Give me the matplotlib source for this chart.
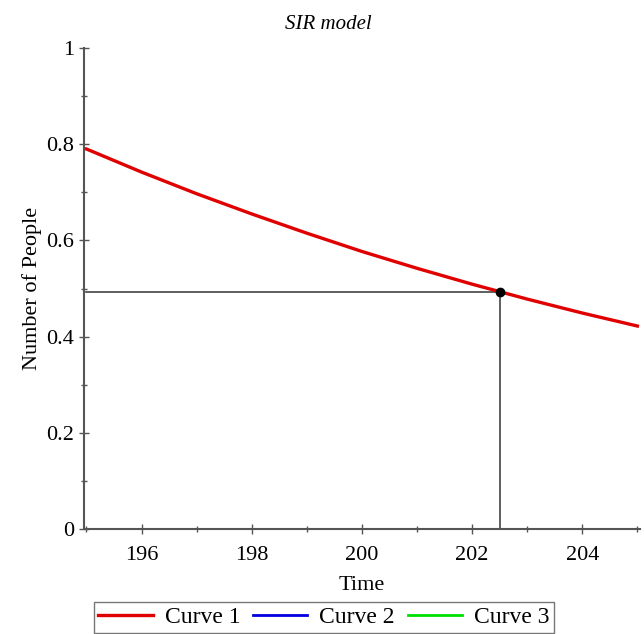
import matplotlib.pyplot as plt
from matplotlib.ticker import MultipleLocator

# values
time = [195, 196, 197, 198, 199, 200, 201, 202, 203, 204, 205]
curve1 = [0.790, 0.742, 0.697, 0.655, 0.615, 0.577, 0.542, 0.509, 0.478, 0.449, 0.422]
point_t = 202.5
point_y = 0.493
legend_labels = ["Curve 1", "Curve 2", "Curve 3"]
legend_colors = ["#e00000", "#0000e0", "#00e000"]

plt.rcParams['font.family'] = ['Liberation Serif', 'DejaVu Serif']

fig = plt.figure(figsize=(6.44, 6.34), dpi=100)
ax = fig.add_axes([0.130, 0.1656, 0.864, 0.7587])

ax.plot(time, curve1, color=legend_colors[0], lw=2.4, zorder=3)
ax.plot([], [], color=legend_colors[1], lw=2)
ax.plot([], [], color=legend_colors[2], lw=2)

ax.plot([time[0], point_t], [point_y, point_y], color="#444444", lw=1.2, zorder=2)
ax.plot([point_t, point_t], [0, point_y], color="#444444", lw=1.2, zorder=2)
ax.plot(point_t, point_y, 'o', color='black', ms=6, zorder=4)

ax.set_xlim(194.95, 205.05)
ax.set_ylim(0, 1)
ax.xaxis.set_major_locator(MultipleLocator(2))
ax.xaxis.set_minor_locator(MultipleLocator(1))
ax.yaxis.set_major_locator(MultipleLocator(0.2))
ax.yaxis.set_minor_locator(MultipleLocator(0.1))
ax.set_yticks([0, 0.2, 0.4, 0.6, 0.8, 1.0])
ax.set_yticklabels(["0", "0.2", "0.4", "0.6", "0.8", "1"])

for s in ['top', 'right']:
    ax.spines[s].set_visible(False)
for s in ['left', 'bottom']:
    ax.spines[s].set_color('#555555')
    ax.spines[s].set_linewidth(1.5)
ax.tick_params(which='major', direction='inout', length=7, width=1, colors='#555555',
               labelcolor='black', labelsize=16)
ax.tick_params(axis='x', which='major', pad=9)
ax.tick_params(which='minor', direction='inout', length=5, width=1, colors='#555555')

ax.set_title("SIR model", style='italic', fontsize=15, pad=14, x=0.44)
ax.set_xlabel("Time", fontsize=16, labelpad=8)
ax.set_ylabel("Number of People", fontsize=16, labelpad=3)

handles = ax.get_lines()[:3]
fig.legend(handles, legend_labels, loc='upper center', bbox_to_anchor=(0.503, 0.051),
           ncol=3, fontsize=17, frameon=True, fancybox=False, edgecolor='#555555',
           handlelength=2.3, columnspacing=0.55, handletextpad=0.5, borderpad=0.2,
           borderaxespad=0)

fig.savefig("out.png", dpi=100)
